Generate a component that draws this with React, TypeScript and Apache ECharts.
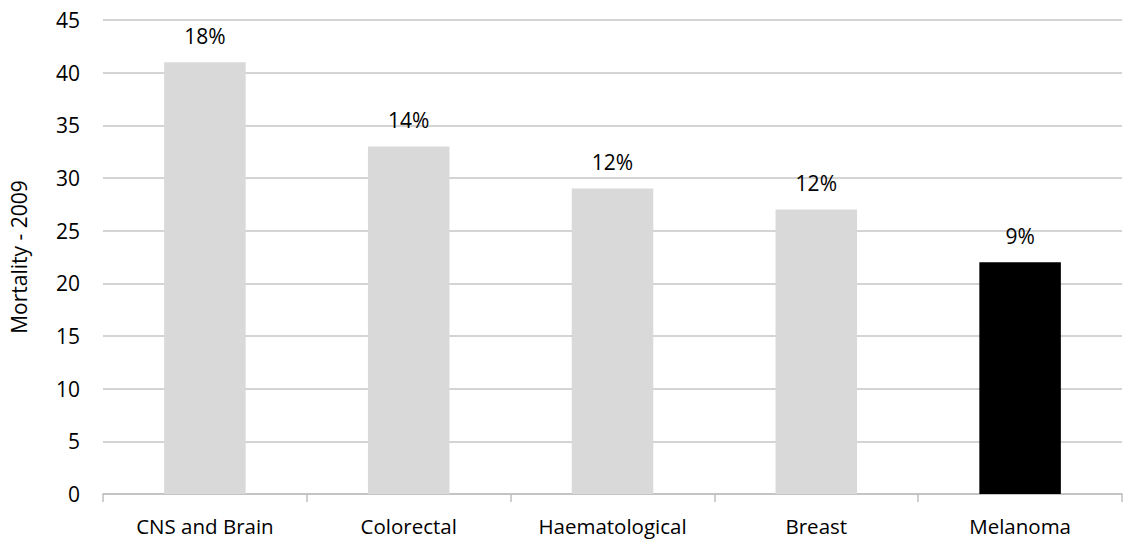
import * as echarts from "echarts";
import { useEffect, useRef } from "react";

const categories = ["CNS and Brain", "Colorectal", "Haematological", "Breast", "Melanoma"];
const mortality = [41, 33, 29, 27, 22];
const shareLabels = ["18%", "14%", "12%", "12%", "9%"];
const barColors = ["#d9d9d9", "#d9d9d9", "#d9d9d9", "#d9d9d9", "#000000"];

const font = "'Open Sans', sans-serif";

export default function App() {
  const ref = useRef<HTMLDivElement | null>(null);

  useEffect(() => {
    if (!ref.current) {
      return;
    }
    const chart = echarts.init(ref.current, undefined, { renderer: "svg" });
    chart.setOption({
      animation: false,
      textStyle: { fontFamily: font },
      grid: { left: 102, right: 8, top: 20, bottom: 45 },
      xAxis: {
        type: "category",
        data: categories,
        axisLine: { lineStyle: { color: "#bfbfbf", width: 1.5 } },
        axisTick: { show: true, length: 8, lineStyle: { color: "#bfbfbf", width: 1.5 } },
        axisLabel: { color: "#000", fontSize: 20.5, margin: 21, fontFamily: font },
      },
      yAxis: {
        type: "value",
        min: 0,
        max: 45,
        interval: 5,
        name: "Mortality - 2009",
        nameLocation: "middle",
        nameGap: 74,
        nameTextStyle: { color: "#000", fontSize: 21, fontFamily: font },
        axisLine: { show: false },
        axisTick: { show: false },
        axisLabel: { color: "#000", fontSize: 21, margin: 23, fontFamily: font },
        splitLine: { lineStyle: { color: "#c6c6c6", width: 1.5 } },
      },
      series: [
        {
          type: "bar",
          barWidth: "40%",
          data: mortality.map((value, i) => ({
            value,
            itemStyle: { color: barColors[i] },
          })),
          label: {
            show: true,
            position: "top",
            distance: 16,
            color: "#000",
            fontSize: 21,
            fontFamily: font,
            formatter: (p: { dataIndex: number }) => shareLabels[p.dataIndex],
          },
        },
      ],
    });
    return () => chart.dispose();
  }, []);

  return (
    <div
      ref={ref}
      style={{ position: "fixed", left: 0, top: 0, width: 1130, height: 539, background: "#fff" }}
    />
  );
}
